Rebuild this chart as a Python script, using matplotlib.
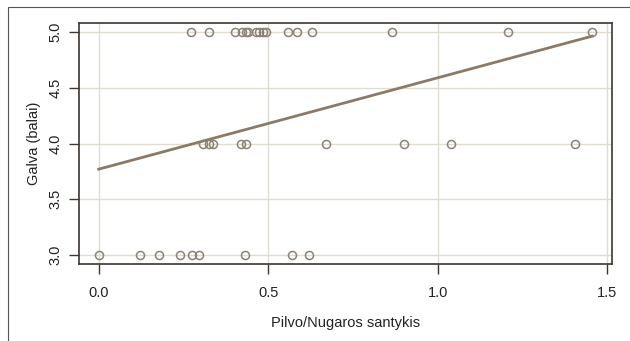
import numpy as np
import matplotlib.pyplot as plt
from matplotlib.patches import Rectangle

plt.rcParams['font.family'] = ['Liberation Sans', 'DejaVu Sans']

# Data
x_score5 = [0.271, 0.326, 0.403, 0.424, 0.435, 0.441, 0.465, 0.474, 0.485,
            0.494, 0.559, 0.585, 0.629, 0.865, 1.206, 1.456]
x_score4 = [0.309, 0.324, 0.338, 0.421, 0.435, 0.671, 0.900, 1.038, 1.406]
x_score3 = [0.0, 0.121, 0.179, 0.241, 0.276, 0.297, 0.432, 0.571, 0.621]

x = np.array(x_score5 + x_score4 + x_score3)
y = np.array([5] * len(x_score5) + [4] * len(x_score4) + [3] * len(x_score3), dtype=float)

xticks = [0.0, 0.5, 1.0, 1.5]
yticks = [3.0, 3.5, 4.0, 4.5, 5.0]

fig = plt.figure(figsize=(6.3, 3.41), dpi=100)
ax = fig.add_axes([79 / 630, 1 - 264 / 341, (612 - 79) / 630, (264 - 23) / 341])

# outer frame (left/top visible)
fig.patches.append(Rectangle((8 / 630, -0.1), 1.2, 1 - 7 / 341 + 0.1,
                             transform=fig.transFigure, fill=False,
                             edgecolor='#555555', linewidth=0.8))

grid_col = '#dfdcd1'
for xv in xticks:
    ax.axvline(xv, color=grid_col, linewidth=1.0, zorder=0)
for yv in yticks:
    ax.axhline(yv, color=grid_col, linewidth=1.0, zorder=0)

ax.plot(x, y, 'o', markerfacecolor='none', markeredgecolor='#8c8275',
        markersize=5.8, markeredgewidth=1.1, zorder=3)

slope, intercept = np.polyfit(x, y, 1)
xs = np.array([x.min(), x.max()])
ax.plot(xs, intercept + slope * xs, color='#8a7b68', linewidth=2.0, zorder=2)

xr = x.max() - x.min()
ax.set_xlim(x.min() - 0.04 * xr, x.max() + 0.04 * xr)
ax.set_ylim(3 - 0.08, 5 + 0.08)

ax.set_xticks(xticks)
ax.set_xticklabels(['0.0', '0.5', '1.0', '1.5'])
ax.set_yticks(yticks)
ax.set_yticklabels(['3.0', '3.5', '4.0', '4.5', '5.0'], rotation=90, va='center')

for s in ax.spines.values():
    s.set_color('#3d3631')
    s.set_linewidth(1.2)
ax.tick_params(direction='out', length=7, width=1.0, color='#3d3631',
               labelsize=10.5, labelcolor='#222222')
ax.tick_params(axis='x', pad=9)
ax.tick_params(axis='y', pad=5)

ax.set_xlabel('Pilvo/Nugaros santykis', fontsize=10.5, color='#222222', labelpad=11)
ax.set_ylabel('Galva (balai)', fontsize=10.5, color='#222222', labelpad=5)

fig.savefig('out.png', dpi=100)
